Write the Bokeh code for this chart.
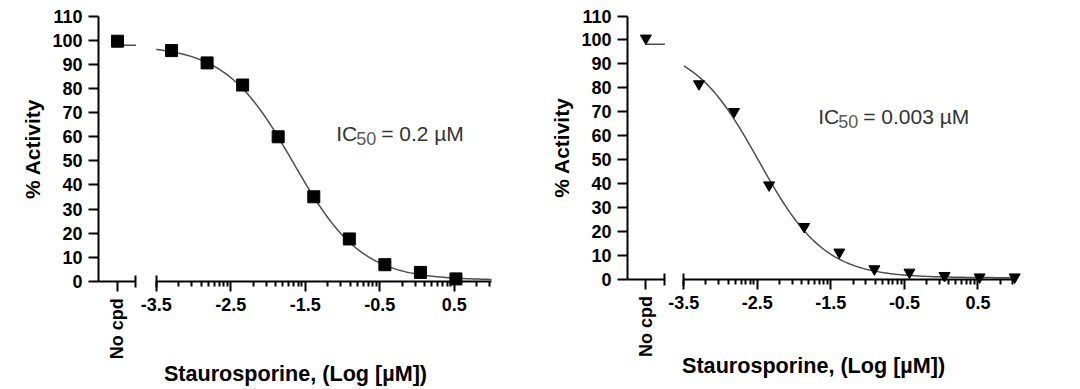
import numpy as np
from math import pi, log10
from bokeh.plotting import figure
from bokeh.layouts import row
from bokeh.models import Range1d, LinearAxis, FixedTicker, Label
from bokeh.embed import file_html
from bokeh.resources import INLINE

# ---------------- data ----------------
left_log_conc = [-3.294, -2.817, -2.340, -1.863, -1.385, -0.908, -0.431, 0.046, 0.523]
left_activity = [95.8, 90.7, 81.5, 60.0, 35.1, 17.6, 6.9, 3.7, 1.0]
left_nocpd_activity = 99.7
left_top, left_bottom, left_log_ic50, left_hill = 98.0, 0.5, -1.66, 0.95
left_ic50_value = "= 0.2 µM"

right_log_conc = [-3.294, -2.817, -2.340, -1.863, -1.385, -0.908, -0.431, 0.046, 0.523, 1.0]
right_activity = [81.6, 70.0, 39.3, 21.9, 11.2, 4.2, 2.8, 1.4, 0.8, 0.8]
right_nocpd_activity = 100.7
right_top, right_bottom, right_log_ic50, right_hill = 98.2, 0.5, -2.48, 0.97
right_ic50_value = "= 0.003 µM"

x_tick_values = [-3.5, -2.5, -1.5, -0.5, 0.5]
x_tick_labels = ["-3.5", "-2.5", "-1.5", "-0.5", "0.5"]
y_tick_values = [0, 10, 20, 30, 40, 50, 60, 70, 80, 90, 100, 110]
nocpd_label = "No cpd"
x_title = "Staurosporine, (Log [µM])"
y_title = "% Activity"
ic_text = "IC"
ic_sub = "50"

FONT = "Liberation Sans"
AXIS_MIN, AXIS_MAX = -3.5, 1.0
Y_MIN, Y_MAX = 0, 110


def four_pl(x, top, bottom, log_ic50, hill):
    return bottom + (top - bottom) / (1.0 + 10 ** ((x - log_ic50) * hill))


def make_panel(xs, ys, nocpd_y, top, bottom, log_ic50, hill, marker, msize,
               ic50_value, ic_xy, title_xy, ylab_xy, x_axis_at, nocpd_x, break_x,
               x_range, y_range, width, height):
    p = figure(frame_width=width, frame_height=height,
               x_range=Range1d(*x_range), y_range=Range1d(*y_range),
               x_axis_location=None, y_axis_location=None,
               output_backend="svg", toolbar_location=None,
               min_border_left=0, min_border_right=0,
               min_border_top=0, min_border_bottom=0)
    p.outline_line_color = None
    p.grid.visible = False
    p.background_fill_color = "white"
    p.border_fill_color = "white"

    tick_font = dict(major_label_text_font=FONT, major_label_text_font_style="bold",
                     major_label_text_font_size="18px", major_label_text_color="black")

    # y axis (fixed at the left end of the x axis)
    ya = LinearAxis(fixed_location=x_axis_at, bounds=(Y_MIN, Y_MAX),
                    ticker=FixedTicker(ticks=y_tick_values, minor_ticks=[]),
                    axis_line_width=2, major_tick_line_width=2,
                    major_tick_out=10, major_tick_in=0,
                    minor_tick_line_color=None, major_label_standoff=6, **tick_font)
    p.add_layout(ya, "left")

    common = dict(fixed_location=0, axis_line_width=2, major_tick_line_width=2,
                  minor_tick_line_width=2, major_label_standoff=7, **tick_font)

    # "No cpd" segment
    ax0 = LinearAxis(bounds=(x_axis_at, break_x),
                     ticker=FixedTicker(ticks=[nocpd_x], minor_ticks=[]),
                     major_label_overrides={nocpd_x: nocpd_label},
                     major_label_orientation=pi / 2,
                     major_tick_out=10, major_tick_in=0, **common)
    p.add_layout(ax0, "below")

    # main log segment
    minor = []
    for d in x_tick_values:
        for k in range(2, 10):
            v = d + log10(k)
            if v <= AXIS_MAX + 1e-9:
                minor.append(v)
    ax1 = LinearAxis(bounds=(AXIS_MIN, AXIS_MAX),
                     ticker=FixedTicker(ticks=x_tick_values, minor_ticks=minor),
                     major_label_overrides=dict(zip(x_tick_values, x_tick_labels)),
                     major_tick_out=10, major_tick_in=0,
                     minor_tick_out=5, minor_tick_in=0, **common)
    p.add_layout(ax1, "below")

    # segment end caps
    ax2 = LinearAxis(bounds=(break_x, AXIS_MIN),
                     ticker=FixedTicker(ticks=[break_x, AXIS_MIN], minor_ticks=[]),
                     major_label_overrides={break_x: "", AXIS_MIN: ""},
                     axis_line_color=None,
                     major_tick_out=6, major_tick_in=6, **common)
    p.add_layout(ax2, "below")

    # fitted curve
    cx = np.linspace(AXIS_MIN, AXIS_MAX, 300)
    cy = four_pl(cx, top, bottom, log_ic50, hill)
    p.line(cx, cy, line_color="#4d4d4d", line_width=1.5)
    p.line([nocpd_x, break_x], [top, top], line_color="#4d4d4d", line_width=1.5)

    # points
    p.scatter(xs, ys, marker=marker, size=msize, fill_color="black", line_color="black")
    p.scatter([nocpd_x], [nocpd_y], marker=marker, size=msize,
              fill_color="black", line_color="black")

    # IC50 annotation
    ix, iy = ic_xy
    p.add_layout(Label(x=ix, y=iy, text=ic_text, text_font=FONT, text_font_size="21px",
                       text_color="#333333", text_baseline="alphabetic"))
    p.add_layout(Label(x=ix, y=iy, x_offset=20, y_offset=-5, text=ic_sub, text_font=FONT,
                       text_font_size="18px", text_color="#5a5a5a",
                       text_baseline="alphabetic"))
    p.add_layout(Label(x=ix, y=iy, x_offset=45, text=ic50_value, text_font=FONT,
                       text_font_size="21px", text_color="#333333",
                       text_baseline="alphabetic"))

    # axis titles
    tx, ty = title_xy
    p.add_layout(Label(x=tx, y=ty, text=x_title, text_font=FONT, text_font_style="bold",
                       text_font_size="21.6px", text_color="black", text_align="center",
                       text_baseline="alphabetic"))
    lx, ly = ylab_xy
    p.add_layout(Label(x=lx, y=ly, text=y_title, angle=pi / 2, text_font=FONT,
                       text_font_style="bold", text_font_size="21px", text_color="black",
                       text_align="center", text_baseline="middle"))
    return p


p1 = make_panel(left_log_conc, left_activity, left_nocpd_activity,
                left_top, left_bottom, left_log_ic50, left_hill, "square", 12,
                left_ic50_value, (-1.085, 61.4), (-1.631, -38.2), (-5.160, 55.0),
                -4.275, -4.02, -3.772,
                (-5.590, 1.631), (-44.5, 116.6), 538, 388)
p2 = make_panel(right_log_conc, right_activity, right_nocpd_activity,
                right_top, right_bottom, right_log_ic50, right_hill, "inverted_triangle", 11,
                right_ic50_value, (-1.672, 67.9), (-1.735, -36.0), (-5.164, 55.0),
                -4.266, -4.017, -3.758,
                (-5.477, 1.882), (-45.8, 116.5), 541, 388)

layout = row(p1, p2)
open("out.html", "w").write(file_html(layout, INLINE))
